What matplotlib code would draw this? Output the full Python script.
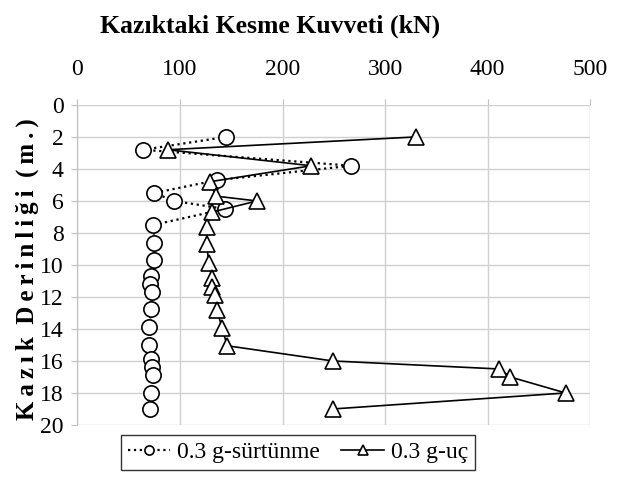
import matplotlib
matplotlib.use("Agg")
import matplotlib.pyplot as plt

plt.rcParams['font.family'] = ['Liberation Serif', 'DejaVu Serif']

# 0.3 g-sürtünme (circles, dotted)
surt_force = [145, 64, 267, 136, 75, 94, 144, 74, 75, 75, 72, 71, 73, 72, 70, 70, 72, 73, 74, 72, 71]
surt_depth = [2.0, 2.8, 3.8, 4.7, 5.5, 6.0, 6.5, 7.5, 8.6, 9.7, 10.7, 11.2, 11.7, 12.75, 13.9, 15.0, 15.9, 16.4, 16.9, 18.0, 19.0]

# 0.3 g-uç (triangles, solid)
uc_force = [330, 88, 228, 129, 135, 175, 131, 126, 126, 128, 131, 131, 134, 136, 141, 146, 249, 411, 422, 476, 249]
uc_depth = [2.0, 2.8, 3.8, 4.8, 5.7, 6.0, 6.7, 7.6, 8.7, 9.85, 10.8, 11.35, 11.9, 12.8, 13.95, 15.05, 16.0, 16.5, 17.0, 18.0, 19.0]

x_ticks = [0, 100, 200, 300, 400, 500]
y_ticks = list(range(0, 21, 2))

fig = plt.figure(figsize=(6.17, 4.82), dpi=100)
ax = fig.add_axes([0.1256, 0.1183, 0.831, 0.664])

ax.plot(surt_force, surt_depth, linestyle=':', color='black', linewidth=1.6,
        marker='o', markersize=11, markerfacecolor='white', markeredgecolor='black',
        markeredgewidth=1.2, label='0.3 g-sürtünme')
ax.plot(uc_force, uc_depth, linestyle='-', color='black', linewidth=1.2,
        marker='^', markersize=11, markerfacecolor='white', markeredgecolor='black',
        markeredgewidth=1.2, label='0.3 g-uç')

ax.set_xlim(0, 500)
ax.set_ylim(20, 0)
ax.set_xticks(x_ticks)
ax.set_yticks(y_ticks)
ax.xaxis.tick_top()
ax.tick_params(axis='x', labelsize=17, length=4, color='#bfbfbf', pad=14)
ax.tick_params(axis='y', labelsize=17, length=4, color='#bfbfbf', pad=6)
ax.grid(True, color='#d0d0d0', linewidth=1)
ax.set_axisbelow(True)
for s in ['top', 'right', 'bottom']:
    ax.spines[s].set_visible(False)
ax.spines['left'].set_color('#bfbfbf')

fig.text(0.4376, 0.945, 'Kazıktaki Kesme Kuvveti (kN)', ha='center', va='center',
         fontsize=18.5, fontweight='bold')
fig.text(0.044, 0.442, 'K\u2009a\u2009z\u2009ı\u2009k  D\u2009e\u2009r\u2009i\u2009n\u2009l\u2009i\u2009ğ\u2009i  (\u2009m\u2009.\u2009)',
         rotation=90, ha='center', va='center', fontsize=18, fontweight='bold')

leg = ax.legend(loc='upper center', bbox_to_anchor=(0.43, -0.03), ncol=2,
                fontsize=17, frameon=True, fancybox=False, edgecolor='black',
                markerscale=0.6, handlelength=1.8, handletextpad=0.3,
                columnspacing=0.9, borderpad=0.3, borderaxespad=0)
leg.get_frame().set_linewidth(1.0)

fig.savefig('out.png', dpi=100)
